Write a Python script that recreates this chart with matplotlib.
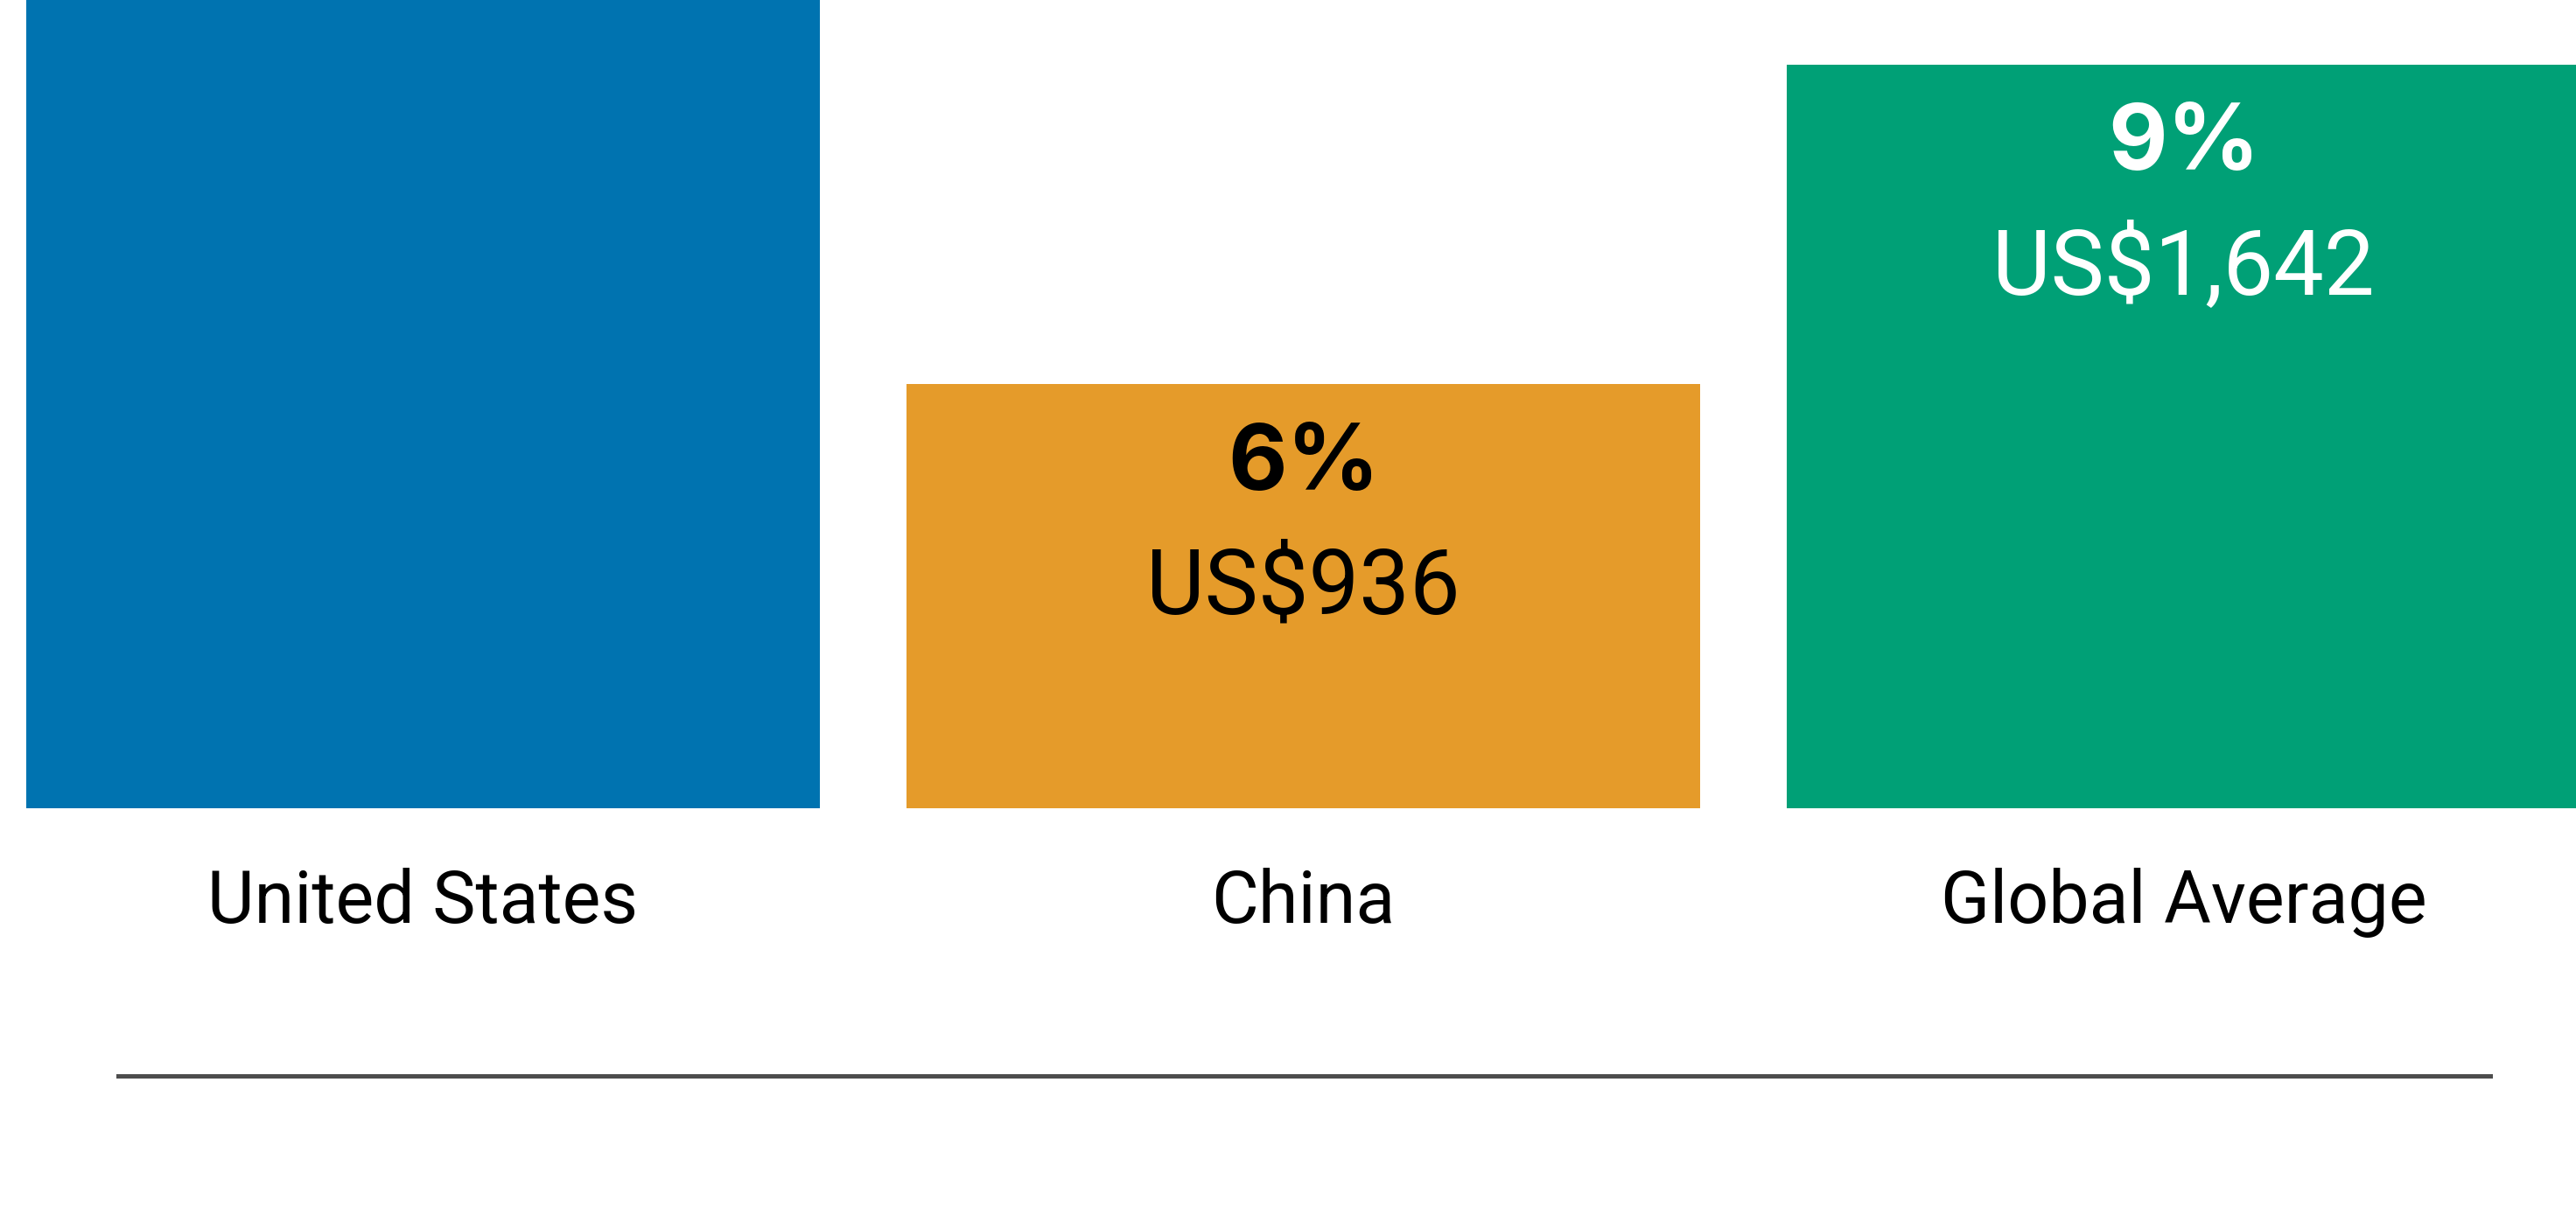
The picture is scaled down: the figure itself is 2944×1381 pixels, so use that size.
import numpy as np
import matplotlib.pyplot as plt

# Data
categories = ['United States', 'China', 'Global Average']
amounts = [2400, 936, 1642]          # US bar runs off the top of the chart
pct_labels = [None, '6%', '9%']
amount_labels = [None, 'US$936', 'US$1,642']
bar_colors = ['#0073B0', '#E59B2A', '#00A076']
text_colors = ['white', 'black', 'white']

plt.rcParams['font.family'] = ['Roboto', 'DejaVu Sans']

fig = plt.figure(figsize=(29.44, 13.81), dpi=100)
ax = fig.add_axes([0, 0, 1, 1])

x = np.arange(len(categories))
ax.bar(x, amounts, width=0.9016, color=bar_colors)

# scale: ~0.518 px per dollar, baseline 457 px above bottom
ax.set_xlim(-0.4806, 2.4458)
ax.set_ylim(-882.4, 1784.1)

for i in range(len(categories)):
    if pct_labels[i]:
        ax.annotate(pct_labels[i], xy=(x[i], amounts[i]), xytext=(0, -67),
                    textcoords='offset points', ha='center', va='center',
                    fontsize=75, fontweight='bold', color=text_colors[i],
                    family=['Inter', 'DejaVu Sans'])
    if amount_labels[i]:
        ax.annotate(amount_labels[i], xy=(x[i], amounts[i]), xytext=(0, -168),
                    textcoords='offset points', ha='center', va='center',
                    fontsize=74, color=text_colors[i])
    ax.annotate(categories[i], xy=(x[i], 0), xytext=(0, -78),
                textcoords='offset points', ha='center', va='center',
                fontsize=59.5, color='black')

ax.axhline(-590.8, xmin=0.0459, xmax=0.9667, color='#4d4d4d', linewidth=3.6)
ax.axis('off')

fig.savefig('out.png', dpi=100)
